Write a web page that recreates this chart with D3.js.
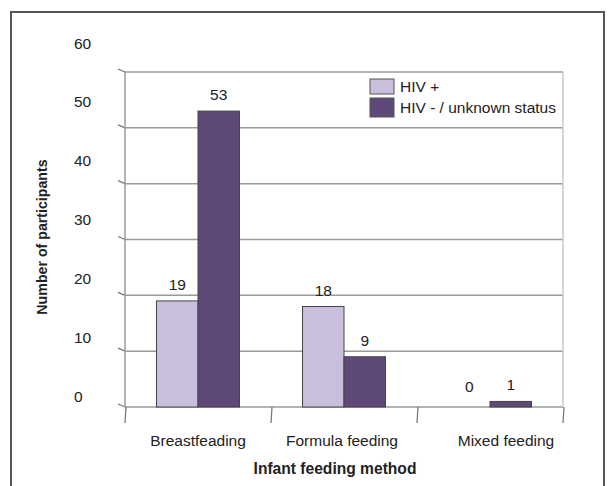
<!DOCTYPE html>
<html>
<head>
<meta charset="utf-8">
<style>
body { margin: 0; background: #fff; }
svg text { font-family: "Liberation Sans", Arial, sans-serif; fill: #222; }
.grid { stroke: #9a9a9a; stroke-width: 1.5px; }
.bar { stroke: #444; stroke-width: 1px; }
</style>
<script src="https://cdn.jsdelivr.net/npm/d3@7"></script>
</head>
<body>
<div id="chart"></div>
<script>
const categories = ["Breastfeading", "Formula feeding", "Mixed feeding"];
const series = ["HIV +", "HIV - / unknown status"];
const hivPos = [19, 18, 0];
const hivNeg = [53, 9, 1];
const yTicks = [0, 10, 20, 30, 40, 50, 60];
const colors = ["#c9bfdc", "#5e4979"];

const W = 610, H = 486;
const svg = d3.select("#chart").append("svg").attr("width", W).attr("height", H);

// outer frame
svg.append("rect").attr("x", 11).attr("y", 12).attr("width", 593).attr("height", 500)
  .attr("fill", "none").attr("stroke", "#555").attr("stroke-width", 2);

const pLeft = 125, pRight = 563, pTop = 72, pBottom = 407;

const x0 = d3.scaleBand().domain(categories).range([pLeft, pRight]).padding(0);
const x1 = d3.scaleBand().domain(series).range([0, x0.bandwidth()]).paddingInner(0).paddingOuter(0.76);
const y = d3.scaleLinear().domain([0, 60]).range([pBottom, pTop]);
// the tick labels in the original sit a little off the gridlines
const yLab = d3.scaleLinear().domain([0, 60]).range([396, 43]);

// gridlines + little left ticks
svg.selectAll(".grid").data(yTicks).enter().append("line")
  .attr("class", "grid")
  .attr("x1", pLeft).attr("x2", pRight)
  .attr("y1", d => y(d)).attr("y2", d => y(d));
svg.selectAll(".ltick").data(yTicks).enter().append("path")
  .attr("d", d => `M${pLeft - 7},${y(d) - 3} L${pLeft},${y(d)}`)
  .attr("stroke", "#777").attr("fill", "none").attr("stroke-width", 1.2);

// left + right edges
svg.append("line").attr("class", "grid").attr("x1", pLeft).attr("x2", pLeft).attr("y1", pTop).attr("y2", pBottom);
svg.append("line").attr("stroke", "#c8c8c8").attr("stroke-width", 1.5)
  .attr("x1", pRight).attr("x2", pRight).attr("y1", pTop).attr("y2", pBottom);

// category ticks under the baseline
const bounds = categories.map(c => x0(c)).concat([pRight]);
svg.selectAll(".btick").data(bounds).enter().append("line")
  .attr("x1", d => d + 1).attr("x2", d => d)
  .attr("y1", pBottom).attr("y2", pBottom + 16)
  .attr("stroke", "#777").attr("stroke-width", 1.2);

// y labels
svg.selectAll(".ylab").data(yTicks).enter().append("text")
  .attr("x", 74).attr("y", d => yLab(d) + 5.5)
  .attr("font-size", 15.5)
  .text(d => d);

// bars
const rows = categories.map((c, i) => ({ cat: c, vals: [hivPos[i], hivNeg[i]] }));
const groups = svg.selectAll(".grp").data(rows).enter().append("g")
  .attr("transform", d => `translate(${x0(d.cat)},0)`);

groups.selectAll("rect").data(d => d.vals.map((v, j) => ({ s: series[j], v, j })))
  .enter().append("rect")
  .attr("class", "bar")
  .attr("x", d => x1(d.s)).attr("width", x1.bandwidth())
  .attr("y", d => y(d.v)).attr("height", d => pBottom - y(d.v))
  .attr("fill", d => colors[d.j])
  .attr("stroke-opacity", d => d.v === 0 ? 0 : 1);

groups.selectAll(".val").data(d => d.vals.map((v, j) => ({ s: series[j], v })))
  .enter().append("text")
  .attr("x", d => x1(d.s) + x1.bandwidth() / 2)
  .attr("y", d => Math.min(y(d.v), pBottom - 4) - 11)
  .attr("text-anchor", "middle").attr("font-size", 15.5)
  .text(d => d.v);

// category labels
const labelNudge = [0, -2, 16];
svg.selectAll(".cat").data(categories).enter().append("text")
  .attr("x", (d, i) => x0(d) + x0.bandwidth() / 2 + labelNudge[i])
  .attr("y", 446).attr("text-anchor", "middle").attr("font-size", 15.5)
  .text(d => d);

// axis titles
svg.append("text").attr("x", 335).attr("y", 474).attr("text-anchor", "middle")
  .attr("font-size", 15.6).attr("font-weight", "bold").text("Infant feeding method");
svg.append("text").attr("transform", "translate(47,237) rotate(-90)").attr("text-anchor", "middle")
  .attr("font-size", 14.2).attr("font-weight", "bold").text("Number of participants");

// legend
const leg = svg.append("g");
const sw = [{ y: 79, h: 15 }, { y: 98, h: 19 }];
series.forEach((s, i) => {
  leg.append("rect").attr("x", 370).attr("y", sw[i].y).attr("width", 24).attr("height", sw[i].h)
    .attr("fill", colors[i]).attr("stroke", "#555").attr("stroke-width", 1);
  leg.append("text").attr("x", 400).attr("y", sw[i].y + sw[i].h / 2 + 5)
    .attr("font-size", 15.5).text(s);
});
</script>
</body>
</html>
